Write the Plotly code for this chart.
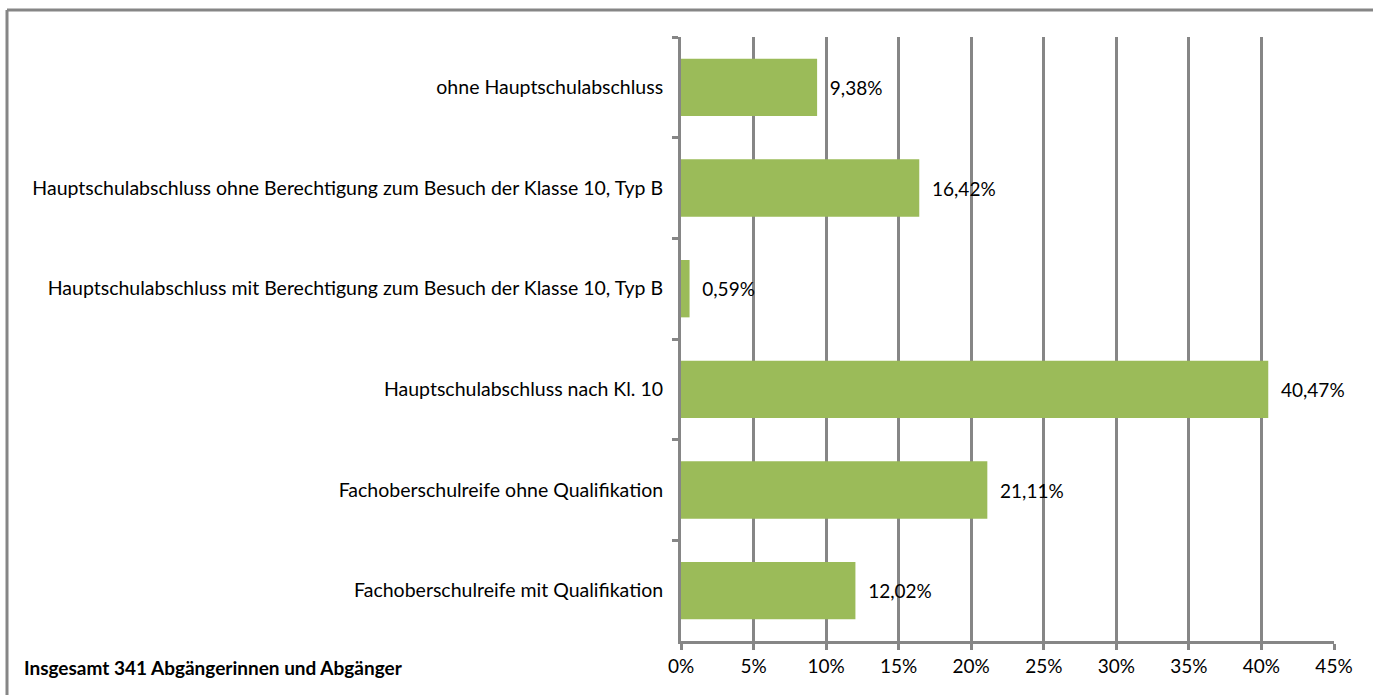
import plotly.graph_objects as go

categories = [
    "ohne Hauptschulabschluss",
    "Hauptschulabschluss ohne Berechtigung zum Besuch der Klasse 10, Typ B",
    "Hauptschulabschluss mit Berechtigung zum Besuch der Klasse 10, Typ B",
    "Hauptschulabschluss nach Kl. 10",
    "Fachoberschulreife ohne Qualifikation",
    "Fachoberschulreife mit Qualifikation",
]
values = [9.38, 16.42, 0.59, 40.47, 21.11, 12.02]
x_ticks = [0, 5, 10, 15, 20, 25, 30, 35, 40, 45]
x_tick_labels = [f"{t}%" for t in x_ticks]
footnote = "Insgesamt 341 Abgängerinnen und Abgänger"

labels = ["  " + f"{v:.2f}".replace(".", ",") + "%" for v in values]

W, H = 1373, 695
L, R, T, B = 681, 1334, 37, 641
pw, ph = R - L, B - T

FONT = "Lato"
FS = 19
GRID = "#868686"

fig = go.Figure(go.Bar(
    x=values, y=categories, orientation="h",
    marker=dict(color="#9BBB59", line=dict(width=0)),
    text=labels, textposition="outside", cliponaxis=False,
    textfont=dict(family=FONT, size=FS, color="#000000"),
    width=0.57,
))

bx0, by0 = (7 - L) / pw, (B - 10) / ph
fig.update_layout(
    width=W, height=H,
    margin=dict(l=L, r=W - R, t=T, b=H - B, autoexpand=False),
    paper_bgcolor="white", plot_bgcolor="white",
    showlegend=False,
    font=dict(family=FONT, size=FS, color="#000000"),
    xaxis=dict(
        range=[0, 45], tickvals=x_ticks, ticktext=x_tick_labels,
        showgrid=True, gridcolor=GRID, gridwidth=3,
        showline=True, linecolor=GRID, linewidth=3,
        ticks="outside", ticklen=6, tickwidth=3, tickcolor=GRID,
        tickfont=dict(family=FONT, size=FS, color="#000000"),
        zeroline=False, fixedrange=True,
    ),
    yaxis=dict(
        categoryorder="array", categoryarray=categories,
        autorange="reversed",
        showline=True, linecolor=GRID, linewidth=3,
        ticks="outside", ticklen=6, tickwidth=3, tickcolor=GRID,
        tickson="boundaries", showgrid=False,
        tickfont=dict(family=FONT, size=19.5, color="#000000"),
        ticklabelstandoff=11,
    ),
    shapes=[
        dict(type="line", xref="paper", yref="paper",
             x0=bx0, x1=(W - L) / pw, y0=by0, y1=by0,
             line=dict(color=GRID, width=3), layer="below"),
        dict(type="line", xref="paper", yref="paper",
             x0=bx0, x1=bx0, y0=by0, y1=(B - H) / ph,
             line=dict(color=GRID, width=3), layer="below"),
    ],
    annotations=[dict(
        text=f"<b>{footnote}</b>", xref="paper", yref="paper",
        x=(22 - L) / pw, y=(B - 667) / ph, xanchor="left", yanchor="middle",
        showarrow=False, font=dict(family=FONT, size=FS, color="#000000"),
    )],
)

fig.write_html(
    "out.html",
    config={"displayModeBar": False},
    post_script="document.body.style.margin='0';",
)
